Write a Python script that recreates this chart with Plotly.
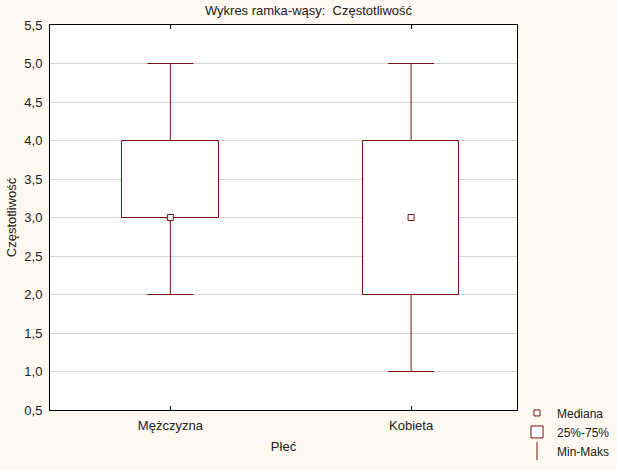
import plotly.graph_objects as go

# Box plot data (Statistica style: median, 25%-75%, min-max)
categories = ["Mężczyzna", "Kobieta"]
medians = [3.0, 3.0]
q1 = [3.0, 2.0]
q3 = [4.0, 4.0]
mins = [2.0, 1.0]
maxs = [5.0, 5.0]

y_ticks = [0.5, 1.0, 1.5, 2.0, 2.5, 3.0, 3.5, 4.0, 4.5, 5.0, 5.5]

DARK_RED = "#7a1010"
BG = "#fdf9f0"
FONT = "Liberation Sans, Arial, sans-serif"

xs = list(range(len(categories)))

fig = go.Figure()

# upper whiskers (q3 -> max)
fig.add_trace(go.Scatter(
    x=xs, y=q3, mode="markers", showlegend=False, hoverinfo="skip",
    marker=dict(size=1, color="rgba(0,0,0,0)"),
    error_y=dict(type="data", symmetric=False,
                 array=[mx - u for mx, u in zip(maxs, q3)],
                 arrayminus=[0] * len(xs),
                 color=DARK_RED, thickness=1, width=23),
))
# lower whiskers (q1 -> min)
fig.add_trace(go.Scatter(
    x=xs, y=q1, mode="markers", showlegend=False, hoverinfo="skip",
    marker=dict(size=1, color="rgba(0,0,0,0)"),
    error_y=dict(type="data", symmetric=False,
                 array=[0] * len(xs),
                 arrayminus=[l - mn for l, mn in zip(q1, mins)],
                 color=DARK_RED, thickness=1, width=23),
))

# legend-only entries, drawn in the right order
fig.add_trace(go.Scatter(
    x=[None], y=[None], mode="markers", name="Mediana",
    marker=dict(symbol="square", size=6, color="white",
                line=dict(color=DARK_RED, width=1)),
))
fig.add_trace(go.Bar(
    x=xs, y=[u - l for u, l in zip(q3, q1)], base=q1, width=0.4,
    name="25%-75%", marker=dict(color="white", line=dict(color=DARK_RED, width=1)),
))
fig.add_trace(go.Scatter(
    x=[None], y=[None], mode="markers", name="Min-Maks",
    marker=dict(symbol="line-ns-open", size=13, color=DARK_RED,
                line=dict(color=DARK_RED, width=1)),
))

# medians on top
fig.add_trace(go.Scatter(
    x=xs, y=medians, mode="markers", showlegend=False,
    marker=dict(symbol="square", size=6, color="white",
                line=dict(color=DARK_RED, width=1)),
))

fig.update_layout(
    width=617, height=470,
    paper_bgcolor=BG, plot_bgcolor="white",
    margin=dict(l=50, r=100, t=25, b=60, autoexpand=False),
    font=dict(family=FONT, size=13, color="#202020"),
    separators=", ",
    title=dict(text="Wykres ramka-wąsy:  Częstotliwość", x=0.5, xanchor="center",
               y=0.978, yanchor="middle", font=dict(size=13)),
    showlegend=True,
    legend=dict(x=1.0, y=0.03, xanchor="left", yanchor="top",
                bgcolor="rgba(0,0,0,0)", font=dict(size=12),
                itemwidth=30, tracegroupgap=0),
    bargap=0,
)

fig.update_xaxes(
    range=[-0.5, 1.44], tickvals=xs, ticktext=categories,
    ticks="inside", ticklen=4, tickcolor="black",
    showline=True, linecolor="black", linewidth=1, mirror="ticks",
    showgrid=False, zeroline=False, automargin=False,
    ticklabelstandoff=3, tickfont=dict(size=13),
    title=dict(text="Płeć", standoff=10, font=dict(size=13)),
)
fig.update_yaxes(
    range=[0.5, 5.5], tickvals=y_ticks, tickformat=".1f",
    showline=True, linecolor="black", linewidth=1, mirror=True,
    showgrid=True, gridcolor="#d4d4d4", gridwidth=1, zeroline=False,
    ticks="", ticklabelstandoff=4, automargin=False, tickfont=dict(size=13),
    title=dict(text="Częstotliwość", standoff=4, font=dict(size=13)),
)

# the page body has an 8px default margin; drop it so the chart sits at 0,0
fig.write_html("out.html", config={"displayModeBar": False},
               post_script="document.body.style.margin='0';")
